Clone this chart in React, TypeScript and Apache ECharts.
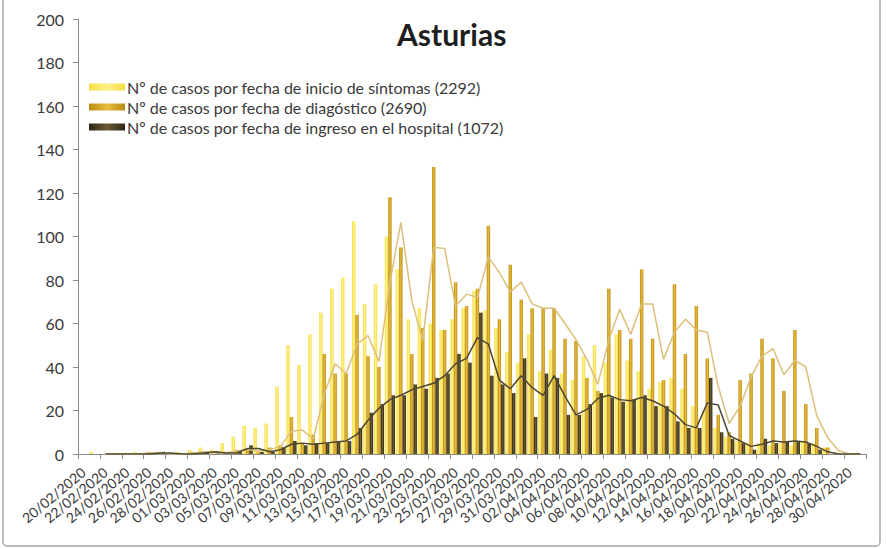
import React, { useEffect, useRef } from "react";
import * as echarts from "echarts";

const dates = [
  "20/02/2020","21/02/2020","22/02/2020","23/02/2020","24/02/2020","25/02/2020","26/02/2020","27/02/2020","28/02/2020","29/02/2020",
  "01/03/2020","02/03/2020","03/03/2020","04/03/2020","05/03/2020","06/03/2020","07/03/2020","08/03/2020","09/03/2020","10/03/2020",
  "11/03/2020","12/03/2020","13/03/2020","14/03/2020","15/03/2020","16/03/2020","17/03/2020","18/03/2020","19/03/2020","20/03/2020",
  "21/03/2020","22/03/2020","23/03/2020","24/03/2020","25/03/2020","26/03/2020","27/03/2020","28/03/2020","29/03/2020","30/03/2020",
  "31/03/2020","01/04/2020","02/04/2020","03/04/2020","04/04/2020","05/04/2020","06/04/2020","07/04/2020","08/04/2020","09/04/2020",
  "10/04/2020","11/04/2020","12/04/2020","13/04/2020","14/04/2020","15/04/2020","16/04/2020","17/04/2020","18/04/2020","19/04/2020",
  "20/04/2020","21/04/2020","22/04/2020","23/04/2020","24/04/2020","25/04/2020","26/04/2020","27/04/2020","28/04/2020","29/04/2020",
  "30/04/2020","01/05/2020"
];

const sintomas = [
  0, 1, 0, 0, 0, 1, 0, 1, 0, 1,
  2, 3, 2, 5, 8, 13, 12, 14, 31, 50,
  41, 55, 65, 76, 81, 107, 69, 78, 100, 85,
  62, 67, 60, 57, 62, 67, 75, 66, 58, 47,
  42, 55, 38, 48, 37, 34, 45, 50, 42, 55,
  43, 38, 30, 33, 35, 30, 22, 20, 12, 8,
  6, 5, 5, 4, 5, 4, 6, 5, 3, 1,
  0, 0
];

const diagnostico = [
  0, 0, 0, 0, 0, 0, 1, 0, 0, 0,
  1, 1, 0, 1, 2, 2, 1, 3, 4, 17,
  5, 9, 46, 37, 37, 64, 45, 40, 118, 95,
  46, 58, 132, 57, 79, 68, 76, 105, 62, 87,
  71, 67, 67, 67, 53, 52, 35, 29, 76, 57,
  53, 85, 53, 34, 78, 46, 68, 44, 18, 10,
  34, 37, 53, 44, 29, 57, 23, 12, 3, 0,
  0, 0
];

const hospital = [
  0, 0, 0, 0, 0, 0, 0, 1, 0, 0,
  0, 1, 1, 0, 1, 4, 1, 1, 3, 6,
  4, 5, 5, 6, 6, 12, 19, 23, 27, 27,
  32, 30, 35, 37, 46, 42, 65, 36, 32, 28,
  44, 17, 37, 35, 18, 18, 23, 28, 26, 24,
  25, 27, 22, 22, 15, 12, 12, 35, 10, 7,
  5, 2, 7, 5, 6, 6, 5, 2, 0, 0,
  0, 0
];

// moving-average lines
const mediaDiagnostico = [
  null, null, 0, 0, 0, 0, 0.5, 0.5, 0, 0,
  0.5, 1, 0.5, 0.5, 1.5, 2, 1.5, 2, 3.5, 10.5,
  11, 7, 27.5, 41.5, 37, 50.5, 54.5, 42.5, 79, 106.5,
  70.5, 52, 95, 94.5, 68, 73.5, 72, 90.5, 83.5, 74.5,
  79, 69, 67, 67, 60, 52.5, 43.5, 32, 52.5, 66.5,
  55, 69, 69, 43.5, 56, 62, 57, 56, 31, 14,
  22, 35.5, 45, 48.5, 36.5, 43, 40, 17.5, 7.5, 1.5,
  0, 0
];

const mediaHospital = [
  null, null, 0, 0, 0, 0, 0, 0.5, 0.5, 0,
  0, 0.5, 1, 0.5, 0.5, 2.5, 2.5, 1, 2, 4.5,
  5, 4.5, 5, 5.5, 6, 9, 15.5, 21, 25, 27,
  29.5, 31, 32.5, 36, 41.5, 44, 53.5, 50.5, 34, 30,
  36, 30.5, 27, 36, 26.5, 18, 20.5, 25.5, 27, 25,
  24.5, 26, 24.5, 22, 18.5, 13.5, 12, 23.5, 22.5, 8.5,
  6, 3.5, 4.5, 6, 5.5, 6, 5.5, 3.5, 1, 0,
  0, 0
];

const seriesNames = [
  "Nº de casos por fecha de inicio de síntomas (2292)",
  "Nº de casos por fecha de diagóstico (2690)",
  "Nº de casos por fecha de ingreso en el hospital (1072)"
];

const FONT = "Lato, 'Open Sans', sans-serif";

function grad(edge: string, mid: string) {
  return new echarts.graphic.LinearGradient(0, 0, 1, 0, [
    { offset: 0, color: edge },
    { offset: 0.5, color: mid },
    { offset: 1, color: edge }
  ]);
}

export default function App() {
  const ref = useRef<HTMLDivElement>(null);

  useEffect(() => {
    if (!ref.current) return;
    const chart = echarts.init(ref.current, null, { renderer: "svg" });
    const axisColor = "#8c8c8c";
    chart.setOption({
      animation: false,
      backgroundColor: "#ffffff",
      title: {
        text: "Asturias",
        left: 392,
        top: 14,
        textStyle: { fontFamily: FONT, fontSize: 30, fontWeight: "bold", color: "#1e1e1e" }
      },
      legend: {
        data: seriesNames,
        orient: "vertical",
        left: 84,
        top: 74,
        itemWidth: 36,
        itemHeight: 7,
        itemGap: 4,
        icon: "rect",
        textStyle: { fontFamily: FONT, fontSize: 16, color: "#3a3a3a", padding: [0, 0, 0, -3] }
      },
      grid: { left: 78, right: 20, top: 19, bottom: 95, containLabel: false },
      xAxis: {
        type: "category",
        data: dates,
        boundaryGap: true,
        axisLine: { show: true, lineStyle: { color: axisColor, width: 1 } },
        axisTick: { show: true, interval: 1, length: 5, lineStyle: { color: axisColor } },
        axisLabel: {
          interval: 1,
          rotate: 40,
          margin: 16,
          fontFamily: FONT,
          fontSize: 14,
          color: "#3a3a3a"
        },
        splitLine: { show: false }
      },
      yAxis: {
        type: "value",
        min: 0,
        max: 200,
        interval: 20,
        axisLine: { show: true, lineStyle: { color: axisColor, width: 1 } },
        axisTick: { show: true, length: 5, lineStyle: { color: axisColor } },
        axisLabel: { margin: 14, fontFamily: FONT, fontSize: 16, color: "#3a3a3a" },
        splitLine: { show: false }
      },
      graphic: [
        {
          type: "rect",
          silent: true,
          shape: { x: 3, y: -6, width: 877, height: 552, r: 4 },
          style: { fill: "none", stroke: "#a6a6a6", lineWidth: 1.5 }
        }
      ],
      series: [
        {
          name: seriesNames[0],
          type: "bar",
          data: sintomas,
          barWidth: 3.4,
          barGap: "0%",
          itemStyle: { color: grad("#f5dc44", "#fff286") }
        },
        {
          name: seriesNames[1],
          type: "bar",
          data: diagnostico,
          barWidth: 3.4,
          barGap: "0%",
          itemStyle: { color: grad("#b88a10", "#e9bb3c") }
        },
        {
          name: seriesNames[2],
          type: "bar",
          data: hospital,
          barWidth: 3.4,
          barGap: "0%",
          itemStyle: { color: grad("#2c2615", "#6a5a32") }
        },
        {
          name: "media diagnóstico",
          type: "line",
          data: mediaDiagnostico,
          symbol: "none",
          lineStyle: { color: "#dcc07a", width: 1.5 },
          z: 5
        },
        {
          name: "media hospital",
          type: "line",
          data: mediaHospital,
          symbol: "none",
          lineStyle: { color: "#4e4630", width: 1.5 },
          z: 5
        }
      ]
    });
    return () => chart.dispose();
  }, []);

  return (
    <div
      ref={ref}
      style={{ position: "fixed", left: 0, top: 0, width: 886, height: 549, background: "#fff" }}
    />
  );
}
